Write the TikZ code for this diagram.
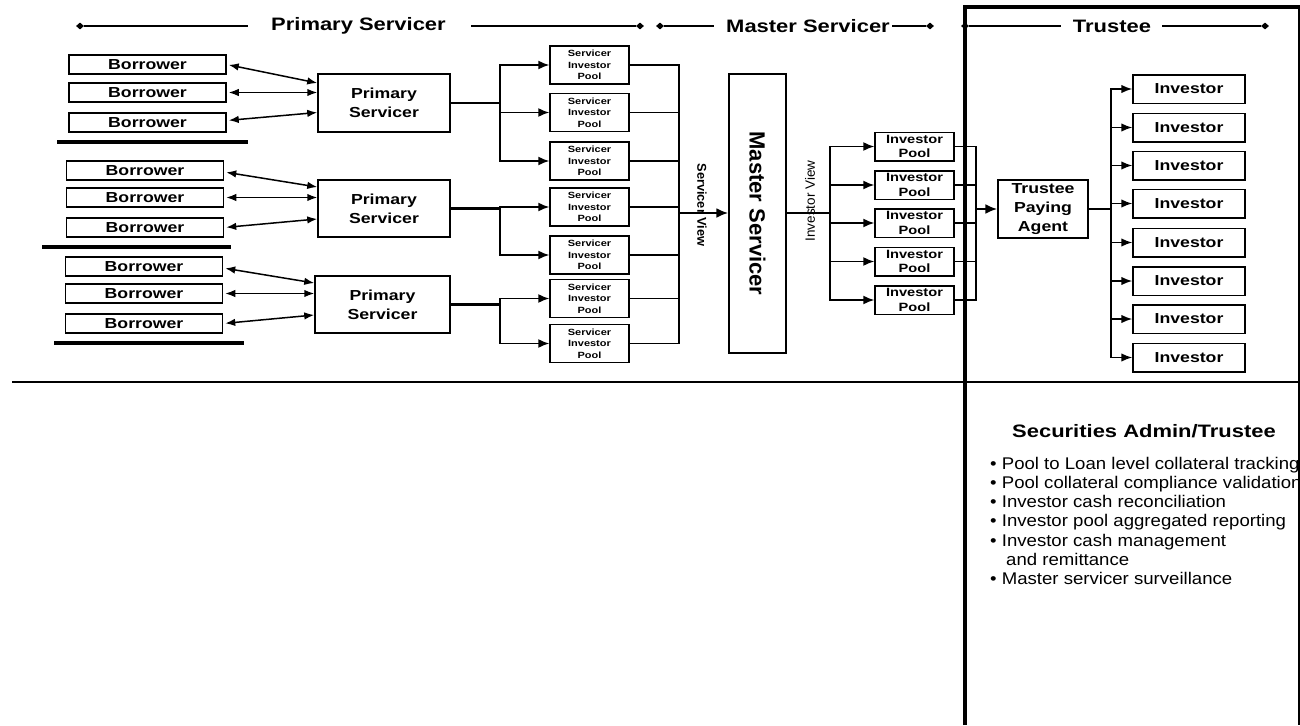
\documentclass[tikz,border=0pt]{standalone}
\usepackage{fontspec}
\setmainfont{Liberation Sans}
\newfontfamily\fwide[FakeStretch=1.22]{Liberation Sans}
\newfontfamily\fbul[FakeStretch=1.1]{Liberation Sans}
\newfontfamily\fnorm{Liberation Sans}
\usetikzlibrary{arrows.meta,shapes.geometric}
\newcommand\fsz[2]{\fontsize{#1}{#2}\selectfont}

\begin{document}
\begin{tikzpicture}[x=1pt,y=-1pt,
  box/.style={draw, line width=1.5pt, inner sep=0pt, align=center,
              font=\fwide\bfseries\fsz{14.5}{19}},
  borrower/.style={box, minimum width=157pt, minimum height=19pt},
  psbox/.style={box, minimum width=132pt, minimum height=57pt, font=\fwide\bfseries\fsz{14.5}{19}},
  sipbox/.style={box, minimum width=79pt, minimum height=38pt, font=\fwide\bfseries\fsz{9}{11.3}},
  ipbox/.style={box, minimum width=79pt, minimum height=28.5pt, font=\fwide\bfseries\fsz{12}{14.5}},
  invbox/.style={box, minimum width=112pt, minimum height=28.5pt},
  hdr/.style={inner sep=0pt, font=\fwide\bfseries\fsz{18}{20}},
  dmd/.style={diamond, fill=black, inner sep=0pt, minimum width=8pt, minimum height=7pt},
  conn/.style={line width=1.5pt},
  feed/.style={line width=2.2pt},
  barr/.style={line width=1.5pt, {Latex[length=10pt,width=7.5pt]}-{Latex[length=10pt,width=7.5pt]}, shorten <=2pt},
  tarr/.style={line width=1.5pt, -{Latex[length=11pt,width=9pt]}},
  bigarr/.style={line width=2.2pt, -{Latex[length=12pt,width=10pt]}},
  rule/.style={line width=4pt},
  vlabel/.style={inner sep=0pt},
  bul/.style={anchor=base west, inner sep=0pt, font=\fbul\fsz{16.9}{19.2}}
]
\useasboundingbox (0,0) rectangle (1300,725);

% ---- section headers
\node[dmd] (d1) at (80,26) {};
\node[hdr] (hp) at (358.5,26) {Primary Servicer};
\node[dmd] (d2) at (640,26) {};
\draw[conn, shorten >=23pt] (d1) -- (hp);
\draw[conn, shorten <=25pt] (hp) -- (d2);

\node[dmd] (d3) at (660,26) {};
\node[hdr] (hm) at (808,26) {Master Servicer};
\node[dmd] (d4) at (930,26) {};
\draw[conn, shorten >=12pt] (d3) -- (hm);
\draw[conn, shorten <=2pt] (hm) -- (d4);

\node[dmd] (d5) at (965,26) {};
\node[hdr] (ht) at (1112,26) {Trustee};
\node[dmd] (d6) at (1265,26) {};
\draw[conn, shorten >=12pt] (d5) -- (ht);
\draw[conn, shorten <=11pt] (ht) -- (d6);

% ---- trustee frame and divider
\draw[line width=3.5pt] (965,725) -- (965,7) -- (1300,7);
\draw[conn] (1299,7) -- (1299,725);
\draw[conn] (12,382) -- (1300,382);

% ---- borrowers
\node[borrower] (b11) at (147.5,64.5) {Borrower};
\node[borrower] (b12) at (147.5,92.5) {Borrower};
\node[borrower] (b13) at (147.5,122.5) {Borrower};
\node[borrower] (b21) at (145,170.5) {Borrower};
\node[borrower] (b22) at (145,197.5) {Borrower};
\node[borrower] (b23) at (145,227.5) {Borrower};
\node[borrower] (b31) at (144,266.5) {Borrower};
\node[borrower] (b32) at (144,293.5) {Borrower};
\node[borrower] (b33) at (144,323.5) {Borrower};

\draw[rule] (57,142) -- (248,142);
\draw[rule] (42,247) -- (231,247);
\draw[rule] (54,343) -- (244,343);

% ---- primary servicers
\node[psbox, minimum height=58pt] (ps1) at (384,103) {Primary\\Servicer};
\node[psbox] (ps2) at (384,208.5) {Primary\\Servicer};
\node[psbox, minimum width=135pt] (ps3) at (382.5,304.5) {Primary\\Servicer};

\draw[barr] (b11.east) -- ([yshift=20pt]ps1.west);
\draw[barr] (b12.east) -- (b12.east -| ps1.west);
\draw[barr] ([yshift=2pt]b13.east) -- ([yshift=-9.5pt]ps1.west);
\draw[barr] ([yshift=-1.5pt]b21.east) -- ([yshift=21.5pt]ps2.west);
\draw[barr] (b22.east) -- (b22.east -| ps2.west);
\draw[barr] (b23.east) -- ([yshift=-10.5pt]ps2.west);
\draw[barr] ([yshift=-1.5pt]b31.east) -- ([yshift=21.5pt]ps3.west);
\draw[barr] (b32.east) -- (b32.east -| ps3.west);
\draw[barr] (b33.east) -- ([yshift=-10.5pt]ps3.west);

% ---- servicer investor pools
\node[sipbox] (s1) at (589.5,65) {Servicer\\Investor\\Pool};
\node[sipbox] (s2) at (589.5,112.5) {Servicer\\Investor\\Pool};
\node[sipbox] (s3) at (589.5,161) {Servicer\\Investor\\Pool};
\node[sipbox] (s4) at (589.5,207) {Servicer\\Investor\\Pool};
\node[sipbox] (s5) at (589.5,255) {Servicer\\Investor\\Pool};
\node[sipbox] (s6) at (589.5,298.5) {Servicer\\Investor\\Pool};
\node[sipbox] (s7) at (589.5,343.5) {Servicer\\Investor\\Pool};

\coordinate (j1) at (500,103);
\coordinate (j2) at (500,208.5);
\coordinate (j3) at (500,304.5);
\draw[feed] (ps1.east) -- (j1);
\draw[feed] (ps2.east) -- (j2);
\draw[feed] (ps3.east) -- (j3);
\draw[tarr] (j1) |- (s1.west);
\draw[tarr] (j1) |- (s2.west);
\draw[tarr] (j1) |- (s3.west);
\draw[tarr] (j2) |- (s4.west);
\draw[tarr] (j2) |- (s5.west);
\draw[tarr] (j3) |- (s6.west);
\draw[tarr] (j3) |- (s7.west);

% ---- master servicer
\node[draw, line width=1.5pt, inner sep=0pt, minimum width=57pt, minimum height=279pt]
  (ms) at (757.5,213.5) {\rotatebox{-90}{\fnorm\bfseries\fsz{22}{22}Master Servicer}};

\coordinate (sb) at (679,213);
\foreach \s in {s1,s2,s3,s4,s5,s6,s7}
  \draw[conn] (\s.east) -| (sb);
\draw[bigarr] (sb) -- (sb -| ms.west);
\node[vlabel, rotate=-90, font=\fnorm\bfseries\fsz{12.8}{14}] (sv) at (702,205) {Servicer View};

% ---- investor pools
\node[ipbox] (i1) at (914.5,146.5) {Investor\\Pool};
\node[ipbox] (i2) at (914.5,185) {Investor\\Pool};
\node[ipbox] (i3) at (914.5,223) {Investor\\Pool};
\node[ipbox] (i4) at (914.5,261.5) {Investor\\Pool};
\node[ipbox] (i5) at (914.5,300) {Investor\\Pool};

\coordinate (jm) at (830,213);
\draw[feed] (ms.east |- jm) -- (jm);
\foreach \i in {i1,i2,i3,i4,i5}
  \draw[tarr] (jm) |- (\i.west);
\node[vlabel, rotate=90, font=\fnorm\fsz{13.5}{15}] (iv) at (810,201) {Investor View};

% ---- trustee paying agent and investors
\node[box, minimum width=90pt, minimum height=58pt] (tpa) at (1043,209) {Trustee\\Paying\\Agent};

\coordinate (tb) at (976,209);
\foreach \i in {i1,i2,i3,i4,i5}
  \draw[conn] (\i.east) -| (tb);
\draw[bigarr] (tb) -- (tpa.west);

\node[invbox] (n1) at (1189,89) {Investor};
\node[invbox] (n2) at (1189,127.5) {Investor};
\node[invbox] (n3) at (1189,165.5) {Investor};
\node[invbox] (n4) at (1189,203.5) {Investor};
\node[invbox] (n5) at (1189,242.5) {Investor};
\node[invbox] (n6) at (1189,281) {Investor};
\node[invbox] (n7) at (1189,319) {Investor};
\node[invbox] (n8) at (1189,357.5) {Investor};

\coordinate (ti) at (1111,209);
\draw[feed] (tpa.east) -- (ti);
\foreach \n in {n1,n2,n3,n4,n5,n6,n7,n8}
  \draw[line width=1.5pt, -{Latex[length=11pt,width=8.5pt]}] (ti) |- (\n.west);

% ---- securities admin / trustee responsibilities
\node[font=\fwide\bfseries\fsz{18}{20}, inner sep=0pt] (sat) at (1144,431) {Securities Admin/Trustee};
\begin{scope}
  \clip (968,440) rectangle (1298,600);
  \node[bul] (l1) at (990,469.2) {\textbullet\ Pool to Loan level collateral tracking};
  \node[bul] (l2) at (990,488.4) {\textbullet\ Pool collateral compliance validation};
  \node[bul] (l3) at (990,507.6) {\textbullet\ Investor cash reconciliation};
  \node[bul] (l4) at (990,526.8) {\textbullet\ Investor pool aggregated reporting};
  \node[bul] (l5) at (990,546.0) {\textbullet\ Investor cash management};
  \node[bul] (l6) at (1006,565.2) {and remittance};
  \node[bul] (l7) at (990,584.4) {\textbullet\ Master servicer surveillance};
\end{scope}
\end{tikzpicture}
\end{document}
